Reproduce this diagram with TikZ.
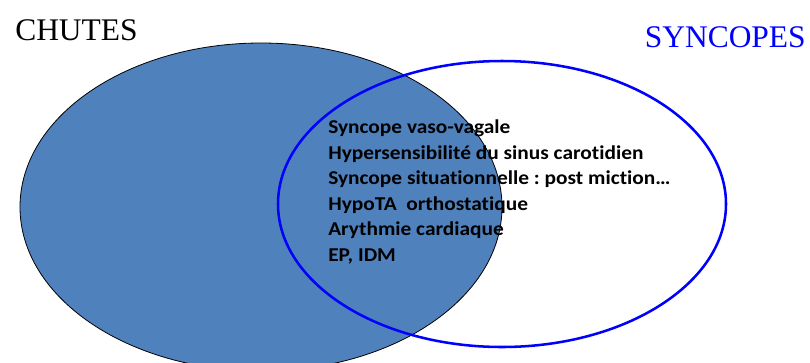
\documentclass[tikz,border=0pt]{standalone}
\usepackage{fontspec}
\setmainfont{Liberation Serif}
\newfontfamily\listfont[Ligatures={NoCommon}, FakeStretch=1.09]{Carlito}
\usepackage{xcolor}
\usetikzlibrary{positioning}
\definecolor{chutesfill}{HTML}{4F81BD}
\definecolor{syncblue}{HTML}{0000FF}
\frenchspacing

\begin{document}
\begin{tikzpicture}[
  x=0.75pt, y=-0.75pt,
  title/.style={inner sep=0pt, font=\fontsize{23.6}{28}\selectfont},
  cause/.style={anchor=base west, inner sep=0pt, font=\listfont\bfseries\fontsize{14.7}{17}\selectfont}
]
  \useasboundingbox (0,0) rectangle (810,362);

  % the two sets
  \fill[chutesfill, draw=black, line width=0.6pt] (261,207) ellipse (241 and 164);
  \draw[syncblue, line width=1.9pt] (502,204) ellipse (224 and 143);

  \node[title, anchor=base west] (chutes) at (15,40) {CHUTES};
  \node[title, anchor=base east, text=syncblue] (syncopes) at (806,47) {SYNCOPES};

  % what lies in both
  \node[cause] (c1) at (328,133.5) {Syncope vaso-vagale};
  \node[cause] (c2) at (328,159) {Hypersensibilité du sinus carotidien};
  \node[cause] (c3) at (328,184.5) {Syncope situationnelle : post miction…};
  \node[cause] (c4) at (328,210) {HypoTA\ \ orthostatique};
  \node[cause] (c5) at (328,235.5) {Arythmie cardiaque};
  \node[cause] (c6) at (328,261) {EP, IDM};
\end{tikzpicture}
\end{document}
